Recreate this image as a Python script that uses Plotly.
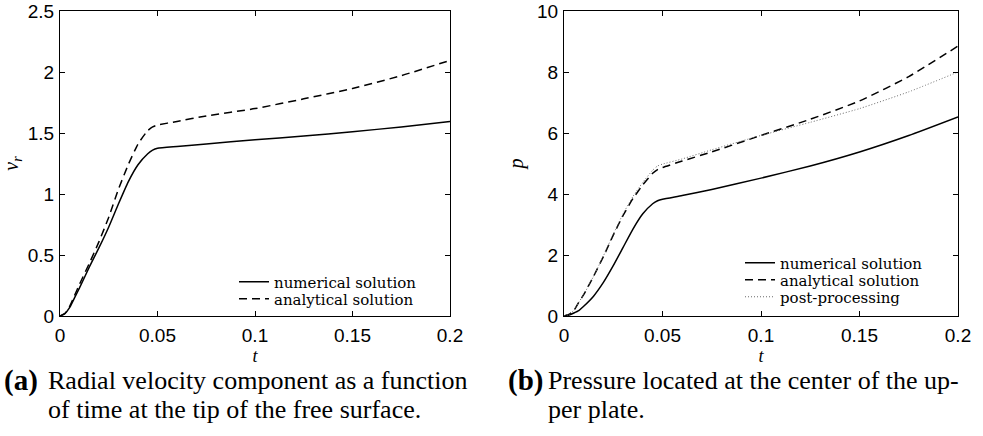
import plotly.graph_objects as go

# ---------------- data ----------------
t = [0, 0.0025, 0.005, 0.0075, 0.01, 0.015, 0.02, 0.025, 0.03, 0.035, 0.04,
     0.045, 0.0475, 0.05, 0.06, 0.075, 0.1, 0.125, 0.15, 0.175, 0.2]

# (a) radial velocity component
vr_numerical = [0, 0.02, 0.07, 0.15, 0.23, 0.40, 0.56, 0.73, 0.92, 1.10, 1.24,
                1.33, 1.36, 1.375, 1.39, 1.41, 1.445, 1.475, 1.51, 1.55, 1.595]
vr_analytical = [0, 0.02, 0.08, 0.17, 0.26, 0.43, 0.61, 0.81, 1.04, 1.24, 1.41,
                 1.52, 1.55, 1.565, 1.595, 1.64, 1.70, 1.78, 1.865, 1.97, 2.095]

# (b) pressure at the centre of the upper plate
p_numerical = [0, 0.03, 0.10, 0.18, 0.32, 0.65, 1.10, 1.65, 2.25, 2.85, 3.35,
               3.68, 3.78, 3.83, 3.95, 4.15, 4.52, 4.92, 5.38, 5.92, 6.53]
p_analytical = [0, 0.05, 0.18, 0.45, 0.70, 1.30, 1.95, 2.65, 3.30, 3.85, 4.30,
                4.68, 4.80, 4.87, 5.08, 5.38, 5.92, 6.45, 7.05, 7.85, 8.85]
p_postprocessing = [0, 0.05, 0.18, 0.45, 0.70, 1.30, 1.97, 2.68, 3.35, 3.92, 4.38,
                    4.78, 4.92, 4.98, 5.15, 5.45, 5.92, 6.35, 6.80, 7.35, 8.00]

x_ticks = [0, 0.05, 0.1, 0.15, 0.2]
x_ticktext = ["0", "0.05", "0.1", "0.15", "0.2"]
vr_ticks = [0, 0.5, 1, 1.5, 2, 2.5]
vr_ticktext = ["0", "0.5", "1", "1.5", "2", "2.5"]
p_ticks = [0, 2, 4, 6, 8, 10]
p_ticktext = ["0", "2", "4", "6", "8", "10"]

legend_names = ["numerical solution", "analytical solution", "post-processing"]
caption_a = ["Radial velocity component as a function",
             "of time at the tip of the free surface."]
caption_b = ["Pressure located at the center of the up-", "per plate."]

# ---------------- figure ----------------
W, H = 983, 436
ML, MR, MT, MB = 60, 25, 11, 120
plot_w = W - ML - MR
plot_h = H - MT - MB

def px(xpix):
    return (xpix - ML) / plot_w

def py(ypix):
    return (H - MB - ypix) / plot_h

SERIF_LEG = "DejaVu Serif"
SANS = "Liberation Sans, Arial, sans-serif"
CAP = "Liberation Serif, Times New Roman, serif"

fig = go.Figure()

solid = dict(color="black", width=1.5)
dashed = dict(color="black", width=1.5, dash="8px,5px")
dotted = dict(color="#6a6a6a", width=1, dash="1px,2px")

fig.add_trace(go.Scatter(x=t, y=vr_numerical, mode="lines", name=legend_names[0],
                         line=dict(**solid, shape="spline", smoothing=0.5),
                         xaxis="x", yaxis="y", legend="legend"))
fig.add_trace(go.Scatter(x=t, y=vr_analytical, mode="lines", name=legend_names[1],
                         line=dict(**dashed, shape="spline", smoothing=0.5),
                         xaxis="x", yaxis="y", legend="legend2"))
fig.add_trace(go.Scatter(x=t, y=p_numerical, mode="lines", name=legend_names[0],
                         line=dict(**solid, shape="spline", smoothing=0.5),
                         xaxis="x2", yaxis="y2", legend="legend3"))
fig.add_trace(go.Scatter(x=t, y=p_analytical, mode="lines", name=legend_names[1],
                         line=dict(**dashed, shape="spline", smoothing=0.5),
                         xaxis="x2", yaxis="y2", legend="legend4"))
fig.add_trace(go.Scatter(x=t, y=p_postprocessing, mode="lines", name=legend_names[2],
                         line=dict(**dotted, shape="spline", smoothing=0.5),
                         xaxis="x2", yaxis="y2", legend="legend5"))

axis_common = dict(showline=True, linecolor="black", linewidth=1, mirror="ticks",
                   ticks="inside", ticklen=5, tickcolor="black", tickwidth=1,
                   showgrid=False, zeroline=False, ticklabeloverflow="allow",
                   automargin=False,
                   tickfont=dict(family=SANS, size=19, color="black"))

title_font = dict(family=CAP, size=20, color="black")
xtitle_font = dict(family=CAP, size=18, color="black")

fig.update_layout(
    width=W, height=H,
    margin=dict(l=ML, r=MR, t=MT, b=MB, autoexpand=False),
    paper_bgcolor="white", plot_bgcolor="white",
    showlegend=True,
    xaxis=dict(domain=[px(60), px(450)], range=[0, 0.2], tickvals=x_ticks, ticktext=x_ticktext,
               anchor="y", ticklabelstandoff=2,
               title=dict(text="<i>t</i>", font=xtitle_font, standoff=0),
               **axis_common),
    yaxis=dict(domain=[0, 1], range=[0, 2.5], tickvals=vr_ticks, ticktext=vr_ticktext,
               anchor="x", ticklabelstandoff=1,
               title=dict(text="<i>v<sub>r</sub></i>", font=title_font, standoff=5),
               **axis_common),
    xaxis2=dict(domain=[px(564), px(958)], range=[0, 0.2], tickvals=x_ticks, ticktext=x_ticktext,
                anchor="y2", ticklabelstandoff=2,
                title=dict(text="<i>t</i>", font=xtitle_font, standoff=0),
                **axis_common),
    yaxis2=dict(domain=[0, 1], range=[0, 10], tickvals=p_ticks, ticktext=p_ticktext,
                anchor="x2", ticklabelstandoff=1,
                title=dict(text="<i>p</i>", font=title_font, standoff=8),
                **axis_common),
)

leg_font = dict(family=SERIF_LEG, size=15, color="black")

def leg(xpix, ypix):
    return dict(x=px(xpix), y=py(ypix), xref="paper", yref="paper",
                xanchor="left", yanchor="middle", bgcolor="rgba(0,0,0,0)",
                borderwidth=0, font=leg_font, itemwidth=30)

fig.update_layout(
    legend=leg(234, 282), legend2=leg(234, 299),
    legend3=leg(740, 263), legend4=leg(740, 280), legend5=leg(740, 297),
)

# captions
ann = []
for lab, xl in (("(a)", 2), ("(b)", 506)):
    ann.append(dict(text="<b>" + lab + "</b>", x=px(xl), y=py(380), xref="paper", yref="paper",
                    xanchor="left", yanchor="middle", showarrow=False,
                    font=dict(family=CAP, size=29, color="black")))
for lines, xl in ((caption_a, 46), (caption_b, 546)):
    for i, line in enumerate(lines):
        ann.append(dict(text=line, x=px(xl), y=py(380 + 29.5 * i), xref="paper", yref="paper",
                        xanchor="left", yanchor="middle", showarrow=False,
                        font=dict(family=CAP, size=26, color="black")))
fig.update_layout(annotations=ann)

fig.write_html("out.html", config={"displayModeBar": False},
               post_script="document.body.style.margin='0';document.body.style.padding='0';")
